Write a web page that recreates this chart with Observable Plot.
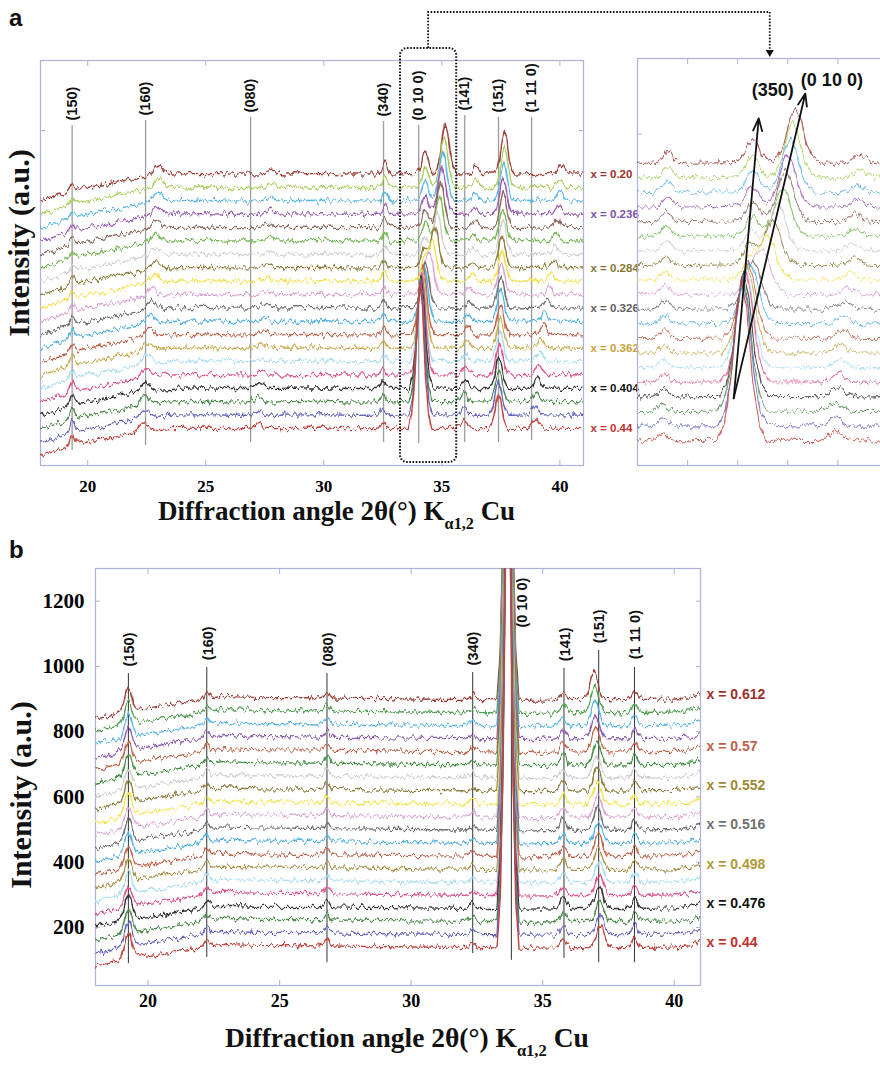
<!DOCTYPE html>
<html>
<head>
<meta charset="utf-8">
<script src="https://cdn.jsdelivr.net/npm/d3@7"></script>
<script src="https://cdn.jsdelivr.net/npm/@observablehq/plot@0.6"></script>
<style>
  html, body { margin: 0; padding: 0; background: #fff; overflow: hidden; }
  #root { position: relative; width: 880px; height: 1065px; overflow: hidden; background: #fff; }
  .letter { position: absolute; font: bold 24px 'Liberation Sans', Arial, sans-serif; color: #111; line-height: 1; }
  .xtitle { position: absolute; white-space: nowrap; font-family: 'Liberation Serif', 'Times New Roman', serif; font-weight: bold; color: #111; line-height: 1; }
  .xtitle sub { font-size: 0.6em; vertical-align: -0.55em; line-height: 0; }
  .ytitle { position: absolute; white-space: nowrap; font-family: 'Liberation Serif', 'Times New Roman', serif; font-weight: bold; color: #111; line-height: 1; transform: translate(-50%, -50%) rotate(-90deg); }
</style>
</head>
<body>
<div id="root"></div>
<script>
// ---------------- DATA ----------------
// 2θ ticks
const angleTicks = [20, 25, 30, 35, 40];
const insetTicks = [33, 34, 35, 36];
const yTicksA = [1000];
const yTicksInset = [950];
const yTicksB = [200, 400, 600, 800, 1000, 1200];

// Panel a : 20 patterns, index 0 = x = 0.20 (top) ... index 19 = x = 0.44 (bottom)
const baseA = [870, 830, 790, 750, 710, 670, 630, 590, 550, 510, 470, 430, 390, 350, 310, 270, 230, 190, 150, 110];
const compIndexA = [0, 3, 7, 10, 13, 16, 19];
const compTextA = ["x = 0.20", "x = 0.236", "x = 0.284", "x = 0.326", "x = 0.362", "x = 0.404", "x = 0.44"];
// background shape relative to each pattern's baseline (2θ, a.u.)
const bgA = [[18,-80],[18.5,-70],[19,-58],[19.5,-46],[20,-40],[20.5,-34],[21,-27],[21.5,-20],[22,-13],[22.5,-6],[23.5,0],[25,2],[26,0],[28,0],[30,2],[31,0],[33,0],[34,2],[36,0],[38,0],[39,2],[41,0]];
// reflections: per-pattern positions and heights
const h150A   = [20,18,18,18,20,18,20,22,20,22,25,28,25,28,28,32,32,32,32,30];
const pos160A = [23.0,23.0,22.95,22.95,22.9,22.9,22.85,22.85,22.8,22.75,22.7,22.65,22.6,22.55,22.5,22.5,22.45,22.4,22.4,22.4];
const h160A   = [30,30,28,28,28,28,25,25,25,25,25,25,25,25,25,25,26,25,25,22];
const pos080A = [27.8,27.8,27.75,27.75,27.7,27.7,27.65,27.6,27.6,27.55,27.5,27.5,27.45,27.4,27.4,27.35,27.3,27.25,27.2,27.2];
const h080A   = [15,12,12,15,15,12,12,15,12,12,15,12,15,12,12,15,18,15,15,15];
const pos340A = [32.6,32.6,32.6,32.6,32.58,32.58,32.58,32.56,32.56,32.55,32.55,32.54,32.54,32.53,32.53,32.52,32.52,32.5,32.5,32.5];
const h340A   = [36,30,30,30,28,28,26,26,25,25,25,24,24,22,22,22,24,22,20,20];
const pos350A = [34.3,34.3,34.3,34.3,34.3,34.3,34.28,34.25,34.25,34.22,34.2,34.2,34.2,34.2,34.2,34.2,34.2,34.2,34.2,34.2];
const h350A   = [66,60,60,55,55,55,55,60,60,55,0,0,0,0,0,0,0,0,0,0];
const pos0100A = [35.15,35.1,35.05,35.0,34.95,34.9,34.8,34.7,34.6,34.5,34.3,34.25,34.2,34.18,34.15,34.15,34.12,34.1,34.1,34.08];
const h0100A   = [150,150,148,144,140,136,130,126,120,117,135,165,207,237,273,306,336,369,402,438];
const pos141A = [36.45,36.45,36.4,36.4,36.35,36.35,36.3,36.3,36.25,36.2,36.15,36.1,36.1,36.05,36.05,36.0,36.0,35.95,35.95,35.95];
const h141A   = [24,22,22,22,22,20,20,20,20,22,22,22,24,24,24,26,28,26,26,26];
const pos151A = [37.65,37.65,37.62,37.6,37.6,37.58,37.58,37.55,37.55,37.52,37.5,37.5,37.48,37.48,37.45,37.45,37.42,37.42,37.4,37.4];
const h151A   = [130,120,115,110,105,100,100,95,95,95,95,95,90,90,90,95,95,95,100,105];
const pos1110A = [40.05,40.0,40.0,39.95,39.9,39.85,39.8,39.75,39.65,39.55,39.45,39.35,39.3,39.2,39.15,39.1,39.05,39.0,38.95,38.95];
const h1110A   = [30,25,25,28,28,25,22,22,22,25,25,28,30,30,30,30,32,30,28,28];
const halfWidthA = [0.3, 0.6, 0.5, 0.3, 0.4, 0.5, 0.38, 0.45, 0.38];

// indexed reflections (reference lines) of panel a
const peakNamesA = ["(150)", "(160)", "(080)", "(340)", "(0 10 0)", "(141)", "(151)", "(1 11 0)"];
const peakAnglesA = [19.34, 22.45, 26.9, 32.53, 34.02, 35.97, 37.4, 38.8];
const peakTopA = [1015, 1030, 1039, 1027, 1015, 1045, 1039, 1039];
const peakBottomA = [45, 60, 69, 69, 66, 69, 69, 75];
// dotted zoom window (2θ range and intensity range)
const zoomBoxA = {from: 33.25, to: 35.63, low: 9, high: 1245};
const zoomTargetInset = 34.65;

// inset: labelled shift of (350) and (0 10 0)
const insetArrows = [
  {x1: 33.92, y1: 226, x2: 34.42, y2: 993},
  {x1: 33.92, y1: 226, x2: 35.35, y2: 1061}
];
const insetLabels = [
  {x: 34.7, y: 1069, text: "(350)"},
  {x: 35.88, y: 1097, text: "(0 10 0)"}
];

// Panel b : 20 patterns, index 0 = x = 0.612 (top) ... index 19 = x = 0.44 (bottom)
const baseB = [900, 860, 820, 780, 740, 700, 660, 620, 580, 540, 500, 460, 420, 380, 340, 300, 260, 220, 180, 140];
const compIndexB = [0, 4, 7, 10, 13, 16, 19];
const compTextB = ["x = 0.612", "x = 0.57", "x = 0.552", "x = 0.516", "x = 0.498", "x = 0.476", "x = 0.44"];
const bgB = [[18,-58],[18.5,-50],[19,-40],[19.6,-32],[20,-27],[21,-15],[22,-2],[22.8,8],[24,5],[26,4],[28,2],[30,0],[33,-2],[34.5,-4],[36,-2],[38,-2],[40,0],[40.6,4],[41,14]];
const h150B  = [75,70,72,70,68,72,65,70,72,66,68,70,66,70,66,68,80,74,78,82];
const h141B  = [25,28,25,28,30,35,30,32,30,32,38,30,32,30,30,30,38,30,30,28];
const pos151B = [36.95,36.98,37.0,37.0,37.02,37.05,37.05,37.08,37.08,37.1,37.1,37.12,37.12,37.12,37.15,37.15,37.15,37.18,37.18,37.2];
const h151B  = [92,80,78,75,78,72,70,72,70,68,70,70,70,68,66,66,68,66,64,70];
const h1110B = [32,28,30,32,30,30,30,30,28,30,34,30,30,30,30,30,34,30,32,30];
const posB   = [19.25, 22.23, 26.8, 32.34, 33.68, 35.78, null, 38.5];
const hConstB = [null, 22, 20, 15, 1500, null, null, null];
const halfWidthB = [0.42, 0.3, 0.28, 0.3, 0.42, 0.35, 0.45, 0.3];

const peakNamesB = ["(150)", "(160)", "(080)", "(340)", "(0 10 0)", "(141)", "(151)", "(1 11 0)"];
const peakAnglesB = [19.25, 22.23, 26.8, 32.34, 33.81, 35.81, 37.13, 38.49];
const peakLabelAnglesB = [19.3, 22.28, 26.85, 32.38, 34.23, 35.85, 37.17, 38.53];
const peakTopB = [978, 997, 978, 981, 1300, 994, 1049, 997];
const peakLabelAtB = [1000, 1019, 1000, 1003, 1119, 1016, 1071, 1022];
const peakBottomB = [89, 108, 92, 120, 99, 105, 92, 92];

// ---------------- STYLE ----------------
const colorsA = ["#a0403a","#a9cf5b","#5bb6e6","#9a5cb6","#8c6b5e","#74b651","#cfcfcf","#8e7e3c","#f1df45","#dca4d6","#6f6f6f","#4fb0e6","#c2624b","#c9aa4c","#a8dcf2","#e1528c","#333333","#4c8a4a","#6666c2","#c2443c"];
const colorsB = ["#a0403a","#52a052","#5bb6e6","#8e5db0","#c0654a","#3f8f3f","#cccccc","#8e7e3c","#f2e34b","#dca4d6","#6f6f6f","#4fb0e6","#c2624b","#a89044","#a8dcf2","#e1528c","#333333","#4c8a4a","#6666c2","#c2443c"];
const labelColorsA = ["#9b2f2a","#8050b0","#857530","#606060","#c9a23a","#111111","#c0302c"];
const labelColorsB = ["#9b2f2a","#c0604a","#9c8a35","#707070","#b09a3a","#111111","#c0302c"];
const frameColor = "#aeb0e2";
const serif = "'Liberation Serif','Times New Roman',serif";
const sans = "'Liberation Sans',Arial,sans-serif";
const narrow = "'Liberation Sans Narrow','Arial Narrow','Liberation Sans',sans-serif";

// ---------------- BUILD ----------------
const SHAPE = [[-1,0],[-0.7,0.1],[-0.45,0.35],[-0.2,0.82],[0,1],[0.2,0.82],[0.45,0.35],[0.7,0.1],[1,0]];
function piece(pts, t) {
  if (t <= pts[0][0]) return pts[0][1];
  for (let k = 1; k < pts.length; k++) {
    if (t <= pts[k][0]) {
      const [x0, y0] = pts[k - 1], [x1, y1] = pts[k];
      return y0 + (y1 - y0) * (t - x0) / (x1 - x0);
    }
  }
  return pts[pts.length - 1][1];
}
function pattern(bg, base, peaks) {
  const xs = new Set(bg.map(d => d[0]));
  for (const p of peaks) if (p.h) for (const [u] of SHAPE) xs.add(+(p.c + u * p.w).toFixed(4));
  return [...xs].sort((a, b) => a - b).map(t => ({
    t, v: base + piece(bg, t) + d3.sum(peaks, p => p.h ? p.h * piece(SHAPE, (t - p.c) / p.w) : 0)
  }));
}
const pick = (a, i) => Array.isArray(a) ? a[i] : a;

const featuresA = [
  [19.34, h150A], [pos160A, h160A], [pos080A, h080A], [pos340A, h340A], [pos350A, h350A],
  [pos0100A, h0100A], [pos141A, h141A], [pos151A, h151A], [pos1110A, h1110A]
];
const tracesA = baseA.map((b, i) => pattern(bgA, b, featuresA.map(([p, h], k) => ({c: pick(p, i), h: pick(h, i), w: halfWidthA[k]}))));
const rowsA = tracesA.flatMap((tr, i) => tr.map(d => ({...d, i, color: colorsA[i]})));

const featuresB = [
  [posB[0], h150B], [posB[1], hConstB[1]], [posB[2], hConstB[2]], [posB[3], hConstB[3]],
  [posB[4], hConstB[4]], [posB[5], h141B], [pos151B, h151B], [posB[7], h1110B]
];
const tracesB = baseB.map((b, i) => pattern(bgB, b, featuresB.map(([p, h], k) => ({c: pick(p, i), h: pick(h, i), w: halfWidthB[k]}))));
const rowsB = tracesB.flatMap((tr, i) => tr.map(d => ({...d, i, color: colorsB[i]})));

const peaksA = peakNamesA.map((name, k) => ({name, angle: peakAnglesA[k], top: peakTopA[k], bottom: peakBottomA[k]}));
const peaksB = peakNamesB.map((name, k) => ({name, angle: peakAnglesB[k], labelAngle: peakLabelAnglesB[k], top: peakTopB[k], labelAt: peakLabelAtB[k], bottom: peakBottomB[k]}));
const compA = compIndexA.map((i, k) => ({v: tracesA[i][tracesA[i].length - 1].v, text: compTextA[k], color: labelColorsA[k]}));
const compB = compIndexB.map((i, k) => ({v: tracesB[i][tracesB[i].length - 1].v, text: compTextB[k], color: labelColorsB[k]}));

const root = document.getElementById("root");
function place(el, left, top) {
  el.style.position = "absolute"; el.style.left = left + "px"; el.style.top = top + "px";
  root.appendChild(el); return el;
}

// noise texture filter for the measured patterns (vertical jitter only)
const defsHolder = document.createElement("div");
defsHolder.innerHTML = `<svg width="0" height="0" style="position:absolute"><defs>
<filter id="jitter" x="-2%" y="-3%" width="104%" height="106%" color-interpolation-filters="sRGB">
<feTurbulence type="fractalNoise" baseFrequency="0.3 0.06" numOctaves="2" seed="5" result="n"/>
<feColorMatrix in="n" type="matrix" values="1.4 0 0 0 -0.2  0 1 0 0 0  0 0 0 0 0.5  0 0 0 0 1" result="m"/>
<feDisplacementMap in="SourceGraphic" in2="m" scale="7.5" xChannelSelector="B" yChannelSelector="R"/>
</filter></defs></svg>`;
root.appendChild(defsHolder);

const inTicks = (anchor, ticks) => (anchor === "top" || anchor === "bottom")
  ? Plot.axisX({anchor, ticks, tickSize: -5, tickFormat: () => "", stroke: frameColor, strokeWidth: 1, label: null})
  : Plot.axisY({anchor, ticks, tickSize: -5, tickFormat: () => "", stroke: frameColor, strokeWidth: 1, label: null});

// ---- panel a main ----
const hA = 530, mtA = 60, mbA = 65;
const unitsPerPxA = 1209 / (hA - mtA - mbA);
const plotA = Plot.plot({
  width: 640, height: hA, marginLeft: 40, marginRight: 57, marginTop: mtA, marginBottom: mbA,
  style: {background: "transparent", overflow: "visible"},
  x: {domain: [18, 41]}, y: {domain: [0, 1209]}, color: {type: "identity"},
  marks: [
    Plot.frame({stroke: frameColor, strokeWidth: 1.2}),
    inTicks("bottom", angleTicks), inTicks("top", angleTicks),
    inTicks("left", yTicksA), inTicks("right", yTicksA),
    Plot.axisX({ticks: angleTicks, tickSize: 0, tickPadding: 14, fontSize: 17, fontWeight: "bold", fontFamily: serif, label: null}),
    Plot.ruleX(peaksA, {x: "angle", y1: "bottom", y2: "top", stroke: "#9c9c9c", strokeWidth: 1.3}),
    Plot.line(rowsA, {x: "t", y: "v", z: "i", stroke: "color", strokeWidth: 1.4, clip: true}),
    Plot.rect([zoomBoxA], {x1: "from", x2: "to", y1: "low", y2: "high", fill: "none", stroke: "#111", strokeWidth: 2, strokeDasharray: "1.6 1.6", rx: 7}),
    Plot.text(peaksA, {x: "angle", y: d => d.top + 5 * unitsPerPxA, text: "name", rotate: -90, textAnchor: "start", fontSize: 14.5, fontWeight: "bold", fontFamily: sans, fill: "#111"}),
    Plot.text(compA, {x: 41, y: "v", text: "text", fill: "color", dx: 7, textAnchor: "start", fontSize: 11.5, fontWeight: "bold", fontFamily: sans})
  ]
});
place(plotA, 0, 0);

// ---- panel a inset ----
const insetLeft = 630;
const plotI = Plot.plot({
  width: 260, height: 530, marginLeft: 7, marginRight: 0, marginTop: 58, marginBottom: 65,
  style: {background: "transparent", overflow: "visible"},
  x: {domain: [32, 37.05]}, y: {domain: [42, 1157]}, color: {type: "identity"},
  marks: [
    Plot.frame({stroke: frameColor, strokeWidth: 1.2}),
    inTicks("bottom", insetTicks), inTicks("top", insetTicks), inTicks("left", yTicksInset),
    Plot.line(rowsA, {x: "t", y: "v", z: "i", stroke: "color", strokeWidth: 1.1, strokeOpacity: 0.85, clip: true}),
    Plot.arrow(insetArrows, {x1: "x1", y1: "y1", x2: "x2", y2: "y2", stroke: "#111", strokeWidth: 1.8, headLength: 11, headAngle: 40}),
    Plot.text(insetLabels, {x: "x", y: "y", text: "text", fontSize: 18, fontWeight: "bold", fontFamily: sans, fill: "#111"})
  ]
});
place(plotI, insetLeft, 0);

// connector between the zoom window and the inset
{
  const xA = plotA.scale("x"), yA = plotA.scale("y"), xI = plotI.scale("x");
  const cx0 = xA.apply((zoomBoxA.from + zoomBoxA.to) / 2), cy0 = yA.apply(zoomBoxA.high);
  const cx1 = insetLeft + xI.apply(zoomTargetInset), cy1 = 50;
  const ns = "http://www.w3.org/2000/svg";
  const svg = document.createElementNS(ns, "svg");
  svg.setAttribute("width", 880); svg.setAttribute("height", 80);
  svg.innerHTML = `<path d="M${cx0},${cy0}V12H${cx1}V${cy1}" fill="none" stroke="#111" stroke-width="1.8" stroke-dasharray="1.6 1.6"/>
    <path d="M${cx1 - 4},${cy1}L${cx1 + 4},${cy1}L${cx1},${cy1 + 7}Z" fill="#111"/>`;
  place(svg, 0, 0);
}

// ---- panel b ----
const topB = 530, hB = 535, mtB = 38, mbB = 80;
const plotB = Plot.plot({
  width: 760, height: hB, marginLeft: 95, marginRight: 60, marginTop: mtB, marginBottom: mbB,
  style: {background: "transparent", overflow: "visible"},
  x: {domain: [18, 41]}, y: {domain: [22, 1300]}, color: {type: "identity"},
  marks: [
    Plot.frame({stroke: frameColor, strokeWidth: 1.2}),
    inTicks("bottom", angleTicks), inTicks("top", angleTicks),
    inTicks("left", yTicksB), inTicks("right", yTicksB),
    Plot.axisX({ticks: angleTicks, tickSize: 0, tickPadding: 9, fontSize: 18, fontWeight: "bold", fontFamily: serif, label: null}),
    Plot.axisY({ticks: yTicksB, tickSize: 0, tickPadding: 11, tickFormat: d3.format("d"), fontSize: 21, fontWeight: "bold", fontFamily: serif, label: null}),
    Plot.ruleX(peaksB, {x: "angle", y1: "bottom", y2: "top", stroke: "#333", strokeWidth: 1}),
    Plot.line(rowsB, {x: "t", y: "v", z: "i", stroke: "color", strokeWidth: 1.4, clip: true}),
    Plot.text(peaksB, {x: "labelAngle", y: "labelAt", text: "name", rotate: -90, textAnchor: "start", fontSize: 14.5, fontWeight: "bold", fontFamily: sans, fill: "#111"}),
    Plot.text(compB, {x: 41, y: "v", text: "text", fill: "color", dx: 6, textAnchor: "start", fontSize: 14, fontWeight: "bold", fontFamily: narrow})
  ]
});
place(plotB, 0, topB);

// noise texture on the pattern lines
for (const p of [plotA, plotI, plotB]) {
  p.querySelectorAll('g[aria-label="line"]').forEach(g => g.setAttribute("filter", "url(#jitter)"));
}

// ---- titles / panel letters ----
const la = document.createElement("div"); la.className = "letter"; la.textContent = "a"; place(la, 9, 6);
const lb = document.createElement("div"); lb.className = "letter"; lb.textContent = "b"; place(lb, 9, 538);

const xtA = document.createElement("div"); xtA.className = "xtitle"; xtA.style.fontSize = "27px";
xtA.innerHTML = "Diffraction angle 2θ(°) K<sub>α1,2</sub> Cu"; place(xtA, 158, 498);
const xtB = document.createElement("div"); xtB.className = "xtitle"; xtB.style.fontSize = "27.5px";
xtB.innerHTML = "Diffraction angle 2θ(°) K<sub>α1,2</sub> Cu"; place(xtB, 225, 1024);

const ytA = document.createElement("div"); ytA.className = "ytitle"; ytA.style.fontSize = "30px";
ytA.textContent = "Intensity (a.u.)"; place(ytA, 19, 243);
const ytB = document.createElement("div"); ytB.className = "ytitle"; ytB.style.fontSize = "30px";
ytB.textContent = "Intensity (a.u.)"; place(ytB, 21, 795);
</script>
</body>
</html>
